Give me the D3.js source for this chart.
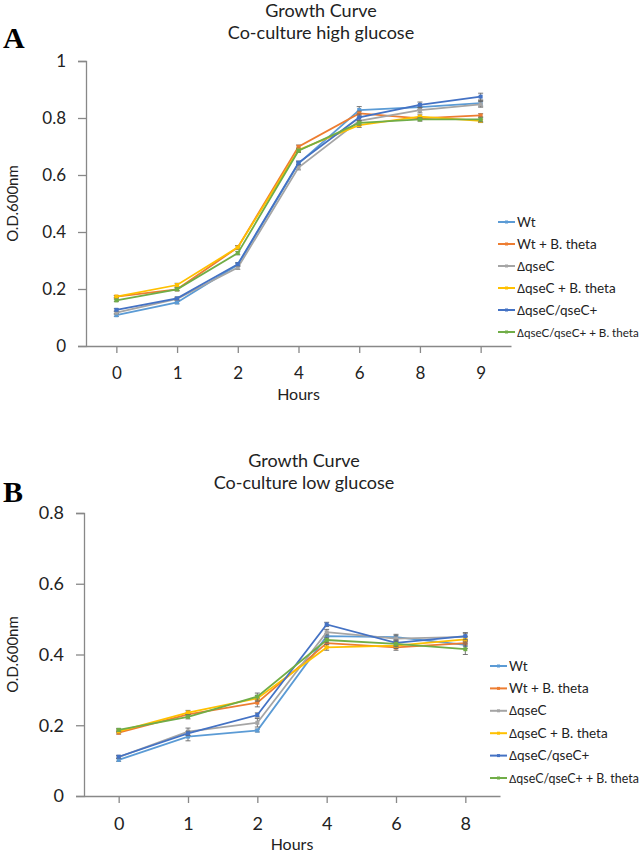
<!DOCTYPE html>
<html><head><meta charset="utf-8">
<script src="https://cdn.jsdelivr.net/npm/d3@7"></script>
<style>body{margin:0;background:#fff}svg{display:block}</style>
</head><body>
<script>
const seriesNames = ["Wt","Wt + B. theta","\u0394qseC","\u0394qseC + B. theta","\u0394qseC/qseC+","\u0394qseC/qseC+ + B. theta"];
const seriesColors = ["#5B9BD5","#ED7D31","#A5A5A5","#FFC000","#4472C4","#70AD47"];

// Panel A: high glucose
const hoursA = ["0","1","2","4","6","8","9"];
const wtA      = [0.108,0.153,0.285,0.640,0.828,0.838,0.852];
const wtBA     = [0.173,0.199,0.346,0.699,0.816,0.799,0.809];
const qseA     = [0.117,0.165,0.275,0.626,0.790,0.828,0.848];
const qseBA    = [0.173,0.214,0.346,0.688,0.775,0.805,0.790];
const compA    = [0.127,0.167,0.287,0.643,0.802,0.846,0.875];
const compBA   = [0.160,0.199,0.326,0.685,0.783,0.795,0.795];
const errA = [
  [0.004,0.005,0.005,0.006,0.012,0.008,0.010],
  [0.004,0.005,0.006,0.006,0.008,0.006,0.006],
  [0.004,0.005,0.006,0.008,0.012,0.010,0.010],
  [0.004,0.006,0.006,0.006,0.008,0.006,0.006],
  [0.004,0.005,0.006,0.006,0.012,0.010,0.012],
  [0.004,0.005,0.006,0.006,0.008,0.006,0.008]
];
const yTicksA = [0,0.2,0.4,0.6,0.8,1];

// Panel B: low glucose
const hoursB = ["0","1","2","4","6","8"];
const wtB      = [0.102,0.168,0.185,0.452,0.449,0.427];
const wtBB     = [0.179,0.231,0.264,0.432,0.420,0.432];
const qseB     = [0.110,0.182,0.207,0.463,0.445,0.450];
const qseBB    = [0.183,0.236,0.276,0.420,0.425,0.443];
const compB    = [0.111,0.177,0.229,0.485,0.433,0.452];
const compBB   = [0.187,0.224,0.281,0.441,0.430,0.415];
const errB = [
  [0.004,0.012,0.004,0.006,0.008,0.010],
  [0.004,0.006,0.012,0.010,0.008,0.008],
  [0.004,0.010,0.012,0.008,0.008,0.010],
  [0.004,0.006,0.008,0.008,0.008,0.008],
  [0.004,0.006,0.006,0.006,0.008,0.010],
  [0.004,0.006,0.010,0.008,0.008,0.015]
];
const yTicksB = [0,0.2,0.4,0.6,0.8];

const W = 644, H = 855;
const svg = d3.select("body").append("svg").attr("width", W).attr("height", H);
const FONT = "Lato, 'Open Sans', sans-serif";

function panel(cfg) {
  const g = svg.append("g");
  const x = d3.scalePoint().domain(cfg.cats).range([cfg.x0, cfg.x1]).padding(0.5);
  const y = d3.scaleLinear().domain([0, cfg.ymax]).range([cfg.yb, cfg.yt]);

  // panel letter
  g.append("text").attr("x", 3).attr("y", cfg.letterY).text(cfg.letter)
    .attr("font-family", "'Liberation Serif','DejaVu Serif',serif").attr("font-weight", "bold")
    .attr("font-size", 30).attr("fill", "#000");
  // title
  const t = g.append("text").attr("text-anchor", "middle").attr("font-family", FONT)
    .attr("font-size", cfg.titleSize).attr("fill", "#222");
  t.append("tspan").attr("x", cfg.titleX).attr("y", cfg.titleY).text("Growth Curve");
  t.append("tspan").attr("x", cfg.titleX).attr("y", cfg.titleY + 22).text(cfg.subtitle);

  // y axis
  const ya = g.append("g").attr("transform", `translate(${cfg.x0},0)`)
    .call(d3.axisLeft(y).tickValues(cfg.yTicks).tickSize(8).tickPadding(12)
      .tickFormat(d => d === 0 ? "0" : d === 1 ? "1" : d3.format(".1f")(d)));
  ya.select(".domain").attr("stroke", "#888").attr("stroke-width", 1.3);
  ya.selectAll(".tick line").attr("stroke", "#888").attr("stroke-width", 1.3);
  ya.selectAll(".tick text").attr("font-family", FONT).attr("font-size", cfg.tickSize).attr("fill", "#222");

  // x axis
  const xa = g.append("g").attr("transform", `translate(0,${cfg.yb})`)
    .call(d3.axisBottom(x).tickSize(7).tickPadding(14).tickSizeOuter(0));
  xa.select(".domain").attr("stroke", "#888").attr("stroke-width", 1.3);
  xa.selectAll(".tick line").attr("stroke", "#888").attr("stroke-width", 1.3);
  xa.selectAll(".tick text").attr("font-family", FONT).attr("font-size", cfg.tickSize).attr("fill", "#222");

  // axis titles
  g.append("text").attr("x", (cfg.x0 + cfg.x1) / 2).attr("y", cfg.hoursY).attr("text-anchor", "middle")
    .attr("font-family", FONT).attr("font-size", 16).attr("fill", "#222").text("Hours");
  g.append("text").attr("transform", `translate(18,${(cfg.yb + cfg.yt) / 2}) rotate(-90)`)
    .attr("text-anchor", "middle").attr("font-family", FONT).attr("font-size", 15).attr("fill", "#222").text("O.D.600nm");

  // series
  const line = d3.line().x((d, i) => x(cfg.cats[i])).y(d => y(d));
  cfg.series.forEach((vals, si) => {
    const col = seriesColors[si];
    vals.forEach((v, i) => {
      const e = cfg.err[si][i], cx = x(cfg.cats[i]);
      g.append("line").attr("x1", cx).attr("x2", cx).attr("y1", y(v - e)).attr("y2", y(v + e))
        .attr("stroke", "#666").attr("stroke-width", 0.9);
      [v - e, v + e].forEach(w => g.append("line").attr("x1", cx - 2.5).attr("x2", cx + 2.5)
        .attr("y1", y(w)).attr("y2", y(w)).attr("stroke", "#666").attr("stroke-width", 0.9));
    });
    g.append("path").datum(vals).attr("d", line).attr("fill", "none").attr("stroke", col).attr("stroke-width", 1.8);
    g.selectAll(null).data(vals).enter().append("rect")
      .attr("x", (d, i) => x(cfg.cats[i]) - 2).attr("y", d => y(d) - 2)
      .attr("width", 4).attr("height", 4).attr("fill", col);
  });

  // legend
  const avail = W - 5 - (cfg.legX + 19);
  seriesNames.forEach((name, si) => {
    const ly = cfg.legY + si * cfg.legStep;
    const col = seriesColors[si];
    g.append("line").attr("x1", cfg.legX).attr("x2", cfg.legX + 17).attr("y1", ly).attr("y2", ly)
      .attr("stroke", col).attr("stroke-width", 2);
    g.append("rect").attr("x", cfg.legX + 7).attr("y", ly - 1.5).attr("width", 3).attr("height", 3).attr("fill", col);
    const tx = g.append("text").attr("x", cfg.legX + 19).attr("y", ly + 4.5).attr("font-family", FONT)
      .attr("font-size", 13.5).attr("fill", "#222");
    let delta = null;
    if (name.startsWith("\u0394")) {
      delta = tx.append("tspan").attr("font-family", "'Liberation Sans', Arimo, sans-serif").attr("font-size", 12).text("\u0394");
      tx.append("tspan").text(name.slice(1));
    } else {
      tx.text(name);
    }
    const w = tx.node().getComputedTextLength();
    if (w > avail) {
      const k = avail / w;
      tx.attr("font-size", 13.5 * k);
      if (delta) delta.attr("font-size", 12 * k);
    }
  });
}

panel({
  letter: "A", letterY: 48, cats: hoursA, ymax: 1, yTicks: yTicksA,
  x0: 86, x1: 511, yb: 346, yt: 61,
  titleX: 321, titleY: 17, titleSize: 18, subtitle: "Co-culture high glucose",
  tickSize: 17, hoursY: 400,
  series: [wtA, wtBA, qseA, qseBA, compA, compBA], err: errA,
  legX: 498, legY: 222, legStep: 22
});

panel({
  letter: "B", letterY: 502, cats: hoursB, ymax: 0.8, yTicks: yTicksB,
  x0: 84, x1: 500, yb: 796, yt: 513,
  titleX: 304, titleY: 467, titleSize: 18, subtitle: "Co-culture low glucose",
  tickSize: 18, hoursY: 850,
  series: [wtB, wtBB, qseB, qseBB, compB, compBB], err: errB,
  legX: 490, legY: 666, legStep: 22.4
});
</script>
</body></html>
